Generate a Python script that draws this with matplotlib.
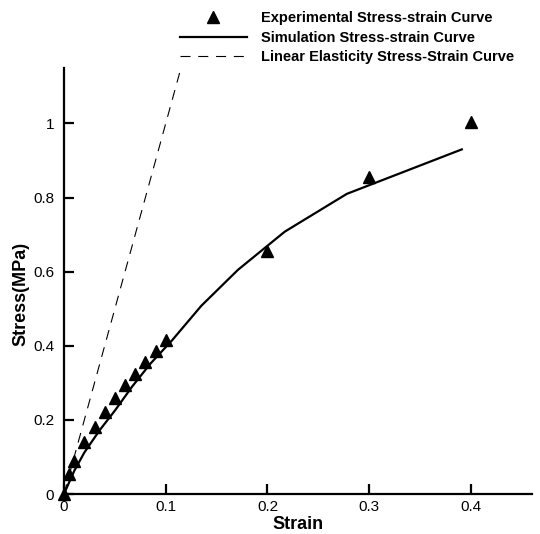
import numpy as np
import matplotlib.pyplot as plt
from matplotlib.ticker import FormatStrFormatter

plt.rcParams['font.family'] = ['Liberation Sans', 'DejaVu Sans']

# experimental points
exp_strain = [0, 0.005, 0.01, 0.02, 0.03, 0.04, 0.05, 0.06, 0.07, 0.08, 0.09, 0.1, 0.2, 0.3, 0.4]
exp_stress = [0, 0.055, 0.09, 0.14, 0.18, 0.22, 0.26, 0.295, 0.325, 0.355, 0.385, 0.415, 0.655, 0.855, 1.005]

# simulation curve
sim_strain = [0, 0.01, 0.02, 0.035, 0.05, 0.067, 0.085, 0.106, 0.135, 0.171, 0.217, 0.278, 0.391]
sim_stress = [0, 0.062, 0.112, 0.172, 0.225, 0.29, 0.352, 0.414, 0.508, 0.605, 0.708, 0.81, 0.93]

# linear elasticity line
lin_strain = [0, 0.12]
lin_stress = [0, 1.2]

fig = plt.figure(figsize=(5.4, 5.34), dpi=100)
ax = fig.add_axes([0.1185, 0.0749, 0.8667, 0.798])

ax.plot(exp_strain, exp_stress, '^', color='black', markersize=9, clip_on=False,
        label="Experimental Stress-strain Curve", zorder=3)
ax.plot(sim_strain, sim_stress, '-', color='black', linewidth=1.6,
        label="Simulation Stress-strain Curve")
ax.plot(lin_strain, lin_stress, '--', color='black', linewidth=0.8, dashes=(9, 7),
        label="Linear Elasticity Stress-Strain Curve")

ax.set_xlim(0, 0.46)
ax.set_ylim(0, 1.15)
ax.set_xticks([0, 0.1, 0.2, 0.3, 0.4])
ax.set_yticks([0, 0.2, 0.4, 0.6, 0.8, 1.0])
ax.xaxis.set_major_formatter(FormatStrFormatter('%g'))
ax.yaxis.set_major_formatter(FormatStrFormatter('%g'))
ax.spines['top'].set_visible(False)
ax.spines['right'].set_visible(False)
ax.spines['left'].set_linewidth(1.6)
ax.spines['bottom'].set_linewidth(1.6)
ax.tick_params(direction='in', length=7.5, width=1.6, labelsize=11)
ax.tick_params(axis='x', pad=4)
ax.tick_params(axis='y', pad=7)
ax.set_xlabel("Strain", fontsize=13, fontweight='bold')
ax.set_ylabel("Stress(MPa)", fontsize=13, fontweight='bold')
ax.xaxis.set_label_coords(0.5, -0.051)
ax.yaxis.set_label_coords(-0.073, 0.47)

ax.legend(loc='upper left', bbox_to_anchor=(0.322, 0.99), bbox_transform=fig.transFigure,
          frameon=False, handlelength=4.6, handletextpad=0.95, labelspacing=0.38,
          borderaxespad=0, prop={'weight': 'bold', 'size': 10.5})

plt.savefig('out.png', dpi=100)
